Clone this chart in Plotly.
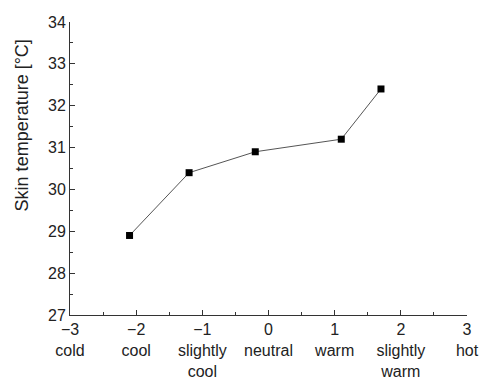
import plotly.graph_objects as go

# Data
sensation = [-2.1, -1.2, -0.2, 1.1, 1.7]
skin_temp = [28.9, 30.4, 30.9, 31.2, 32.4]

tick_vals = [-3, -2, -1, 0, 1, 2, 3]
tick_words = ["cold", "cool", "slightly<br>cool", "neutral", "warm", "slightly<br>warm", "hot"]
tick_text = [f"{'−' if v < 0 else ''}{abs(v)}<br>{w}" for v, w in zip(tick_vals, tick_words)]
y_title = "Skin temperature [°C]"

fig = go.Figure()
fig.add_trace(go.Scatter(
    x=sensation, y=skin_temp, mode="lines+markers",
    line=dict(color="#555555", width=1),
    marker=dict(symbol="square", size=7, color="black"),
    showlegend=False,
))

font = dict(family="Liberation Sans, Arial, sans-serif", size=16, color="#222222")

fig.update_layout(
    width=481, height=379,
    margin=dict(l=70, r=14, t=22, b=64),
    paper_bgcolor="white", plot_bgcolor="white",
    font=font,
    xaxis=dict(
        range=[-3, 3], tickvals=tick_vals, ticktext=tick_text,
        showline=True, linecolor="#333333", linewidth=1,
        ticks="inside", ticklen=5, tickcolor="#333333",
        minor=dict(ticks="inside", dtick=0.5, ticklen=3, tickcolor="#333333"),
        showgrid=False, zeroline=False, automargin=False,
        ticklabeloverflow="allow",
        tickfont=font,
    ),
    yaxis=dict(
        range=[27, 34], dtick=1,
        showline=True, linecolor="#333333", linewidth=1,
        ticks="inside", ticklen=5, tickcolor="#333333",
        minor=dict(ticks="inside", dtick=0.5, ticklen=3, tickcolor="#333333"),
        showgrid=False, zeroline=False, automargin=False,
        tickfont=font,
    ),
)
fig.add_annotation(
    text=y_title, textangle=-90, showarrow=False,
    xref="paper", yref="paper", x=-0.121, y=0.647,
    xanchor="center", yanchor="middle",
    font=dict(family=font["family"], size=18, color="#222222"),
)

fig.write_html("out.html", config={"displayModeBar": False},
               post_script="document.body.style.margin='0';")
